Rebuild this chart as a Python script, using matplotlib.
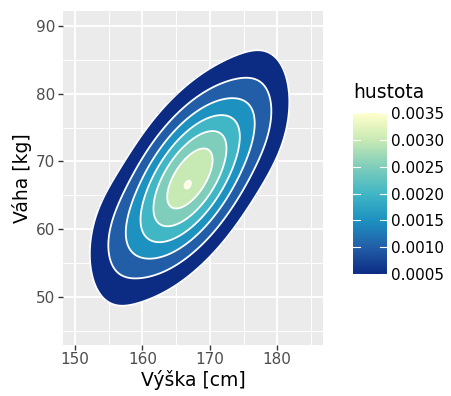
import numpy as np
import matplotlib
matplotlib.use('Agg')
import matplotlib.pyplot as plt
from matplotlib.colors import LinearSegmentedColormap, Normalize
from matplotlib.colorbar import ColorbarBase

levels = [0.0005, 0.0010, 0.0015, 0.0020, 0.0025, 0.0030, 0.0035]
level_colors = ['#0c2c84', '#225ea8', '#1d91c0', '#41b6c4', '#7fcdbb', '#c7e9b4', '#ffffcc']
level_labels = ['0.0005', '0.0010', '0.0015', '0.0020', '0.0025', '0.0030', '0.0035']
peak_density = 0.00356

# kernel-density components (centre height, centre weight, orientation, spreads, mass)
comp_x = [152.0, 155.0, 158.0, 161.0, 164.0, 167.0, 170.0, 173.0, 176.0, 179.0, 182.0, 167.3, 166.7]
comp_y = [53.5, 56.3, 58.6, 61.5, 64.5, 67.4, 70.3, 73.3, 76.2, 79.0, 81.5, 68.2, 66.4]
comp_angle = [90.0] * 11 + [60.0, 60.0]
comp_s_along = [6.8] * 11 + [4.0, 0.7]
comp_s_across = [3.0] * 11 + [1.8, 0.5]
comp_w = [0.012, 0.066, 0.077, 0.133, 0.185, 0.207, 0.185, 0.133, 0.085, 0.064, 0.012, 0.0045, 0.00040]

x_ticks = [150, 160, 170, 180]
y_ticks = [50, 60, 70, 80, 90]
x_lim = (148.2, 186.8)
y_lim = (42.9, 92.2)

xs = np.linspace(146.0, 188.0, 400)
ys = np.linspace(43.0, 92.0, 400)
X, Y = np.meshgrid(xs, ys)
Z = np.zeros_like(X)
for cx, cy, ang, su, sv, w in zip(comp_x, comp_y, comp_angle, comp_s_along, comp_s_across, comp_w):
    t = np.deg2rad(ang)
    dx, dy = X - cx, Y - cy
    u = dx * np.cos(t) + dy * np.sin(t)
    v = -dx * np.sin(t) + dy * np.cos(t)
    Z += w / (2 * np.pi * su * sv) * np.exp(-0.5 * ((u / su) ** 2 + (v / sv) ** 2))
Z *= peak_density / Z.max()

fig = plt.figure(figsize=(4.51, 3.96), dpi=100)
ax = fig.add_axes([63 / 451, 1 - 345 / 396, 260 / 451, 334 / 396])
ax.set_facecolor('#EBEBEB')
for s in ax.spines.values():
    s.set_visible(False)
ax.set_xticks(x_ticks)
ax.set_yticks(y_ticks)
ax.set_xticks([155, 165, 175, 185], minor=True)
ax.set_yticks([45, 55, 65, 75, 85], minor=True)
ax.grid(which='major', color='white', linewidth=1.3)
ax.grid(which='minor', color='white', linewidth=0.65)
ax.set_axisbelow(True)
ax.tick_params(which='major', length=3.4, width=1.0, color='#333333',
               labelsize=11, labelcolor='#4D4D4D', pad=2)
ax.tick_params(which='minor', length=0)

ax.contourf(X, Y, Z, levels=levels + [1.0], colors=level_colors, zorder=2)
ax.contour(X, Y, Z, levels=levels, colors='white', linewidths=1.3, zorder=3)

ax.set_xlim(*x_lim)
ax.set_ylim(*y_lim)
ax.set_xlabel('Výška [cm]', fontsize=13.5, labelpad=2)
ax.set_ylabel('Váha [kg]', fontsize=13.5, labelpad=3)

cax = fig.add_axes([353.3 / 451, 1 - 274 / 396, 33.4 / 451, 160.7 / 396])
cmap = LinearSegmentedColormap.from_list('ylgnbu', level_colors)
norm = Normalize(vmin=levels[0], vmax=levels[-1])
cb = ColorbarBase(cax, cmap=cmap, norm=norm, orientation='vertical')
cb.outline.set_visible(False)
cb.set_ticks(levels)
cb.set_ticklabels(level_labels)
cax.tick_params(length=0, labelsize=11, labelcolor='black', pad=3)
for lv in levels:
    cax.plot([0, 0.2], [lv, lv], color='white', lw=0.8, transform=cax.get_yaxis_transform())
    cax.plot([0.8, 1.0], [lv, lv], color='white', lw=0.8, transform=cax.get_yaxis_transform())
fig.text(353 / 451, 1 - 93 / 396, 'hustota', fontsize=13.5, ha='left', va='center')

fig.savefig('out.png', dpi=100)
